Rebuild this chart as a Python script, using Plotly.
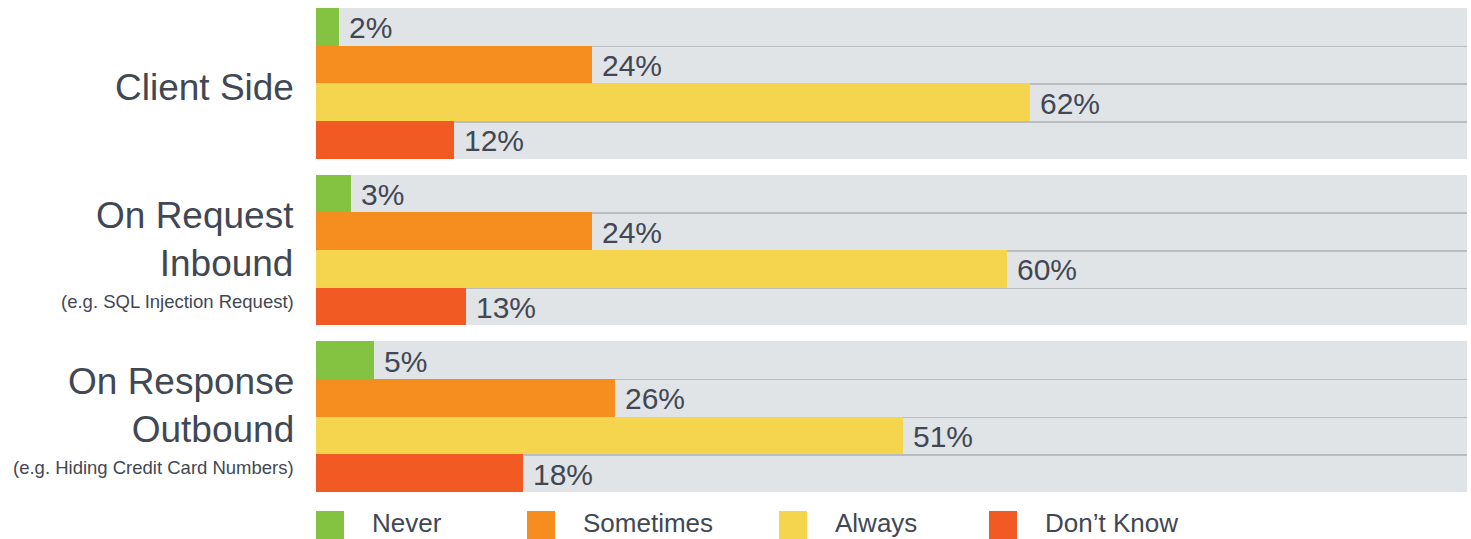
import plotly.graph_objects as go

# ---- data ----
groups = ["Client Side", "On Request<br>Inbound", "On Response<br>Outbound"]
group_notes = ["", "(e.g. SQL Injection Request)", "(e.g. Hiding Credit Card Numbers)"]
series = ["Never", "Sometimes", "Always", "Don’t Know"]
never = [2, 3, 5]
sometimes = [24, 24, 26]
always = [62, 60, 51]
dont_know = [12, 13, 18]
values = [never, sometimes, always, dont_know]

# ---- style ----
colors = ["#84c341", "#f68e1f", "#f6d54e", "#f15a22"]
BG = "#e1e4e7"
SEP = "#b9bcc1"
TXT = "#414753"
FONT = "Liberation Sans, Arial, sans-serif"
GAP = 0.42
NR = len(series)
T = 0.04

def pos(g, r):
    return g * (NR + GAP) + r

fig = go.Figure()

ys_all = [pos(g, r) for g in range(len(groups)) for r in range(NR)]
rows_all = [r for g in range(len(groups)) for r in range(NR)]

# separator rows (darker thin line at top of rows 2..4)
sep_y = [y for y, r in zip(ys_all, rows_all) if r > 0]
fig.add_trace(go.Bar(y=sep_y, x=[100] * len(sep_y), orientation="h",
                     marker=dict(color=SEP, line=dict(width=0)),
                     width=[1.0] * len(sep_y), offset=[-0.5] * len(sep_y),
                     showlegend=False, hoverinfo="skip"))
# light gray background rows
fig.add_trace(go.Bar(y=ys_all, x=[100] * len(ys_all), orientation="h",
                     marker=dict(color=BG, line=dict(width=0)),
                     width=[1.0 if r == 0 else 1.0 - T for r in rows_all],
                     offset=[-0.5 if r == 0 else -0.5 + T for r in rows_all],
                     showlegend=False, hoverinfo="skip"))

annotations = []
for r, (name, vals, col) in enumerate(zip(series, values, colors)):
    ys = [pos(g, r) for g in range(len(groups))]
    fig.add_trace(go.Bar(y=ys, x=vals, orientation="h", name=name,
                         marker=dict(color=col, line=dict(width=0)),
                         width=[1.0] * len(ys), offset=[-0.5] * len(ys),
                         showlegend=False))
    for y, v in zip(ys, vals):
        annotations.append(dict(x=v, y=y, xref="x", yref="y", text=f"{v}%",
                                showarrow=False, xanchor="left", yanchor="middle",
                                xshift=8, yshift=-1,
                                font=dict(size=30, color=TXT, family=FONT)))

# category labels
for g, (lab, note) in enumerate(zip(groups, group_notes)):
    center = pos(g, (NR - 1) / 2)
    if note:
        annotations.append(dict(x=0, xref="paper", y=center, yref="y", text=lab,
                                showarrow=False, xanchor="right", yanchor="middle",
                                align="right", xshift=-20, yshift=11,
                                font=dict(size=37, color=TXT, family=FONT)))
        annotations.append(dict(x=0, xref="paper", y=center, yref="y", text=note,
                                showarrow=False, xanchor="right", yanchor="middle",
                                align="right", xshift=-20, yshift=-51,
                                font=dict(size=18.5, color=TXT, family=FONT)))
    else:
        annotations.append(dict(x=0, xref="paper", y=center, yref="y", text=lab,
                                showarrow=False, xanchor="right", yanchor="middle",
                                align="right", xshift=-20, yshift=-4,
                                font=dict(size=37, color=TXT, family=FONT)))

# custom legend with large squares
LEGEND_X = [0, 211, 463, 673]
shapes = []
for name, col, lx in zip(series, colors, LEGEND_X):
    shapes.append(dict(type="rect", xref="paper", yref="paper",
                       xsizemode="pixel", ysizemode="pixel", xanchor=0, yanchor=0,
                       x0=lx, x1=lx + 28, y0=-19, y1=-48,
                       fillcolor=col, line=dict(width=0)))
    annotations.append(dict(x=0, xref="paper", y=0, yref="paper", text=name,
                            showarrow=False, xanchor="left", yanchor="middle",
                            xshift=lx + 54, yshift=-31,
                            font=dict(size=26, color=TXT, family=FONT)))

ymax = pos(len(groups) - 1, NR - 1)
fig.update_layout(
    width=1471, height=539,
    margin=dict(l=316, r=4, t=8, b=47),
    paper_bgcolor="white", plot_bgcolor="white",
    barmode="overlay", bargap=0,
    xaxis=dict(range=[0, 100], visible=False, fixedrange=True),
    yaxis=dict(range=[ymax + 0.5, -0.5], visible=False, fixedrange=True),
    annotations=annotations, shapes=shapes,
    showlegend=False,
    font=dict(family=FONT, color=TXT),
)

fig.write_html("out.html")
